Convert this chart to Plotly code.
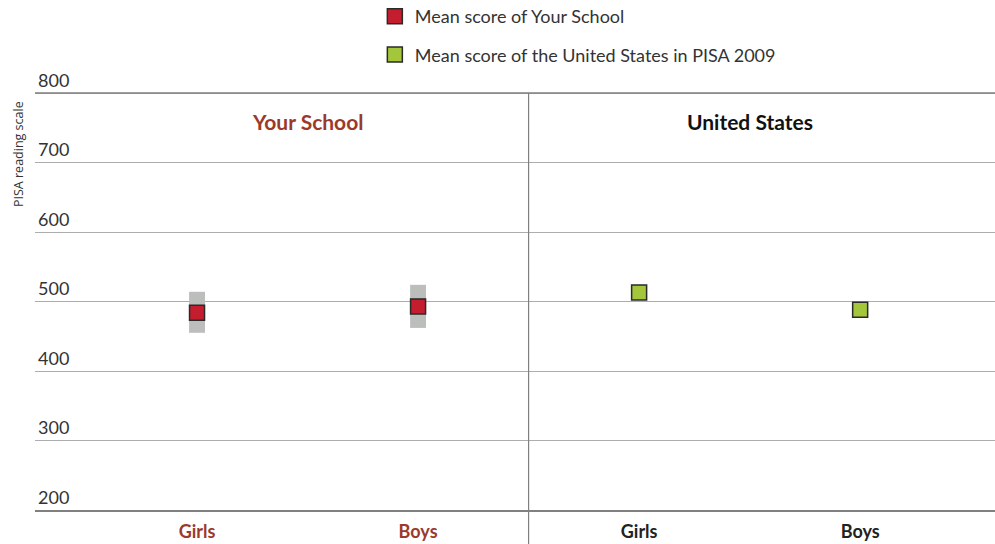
import plotly.graph_objects as go

categories = ["Girls", "Boys", "Girls", "Boys"]
school_mean = [484, 493]
school_low = [455, 462]
school_high = [514, 524]
us_mean = [513, 488]
panel_titles = ["Your School", "United States"]
y_ticks = [200, 300, 400, 500, 600, 700, 800]

RED_TXT = "#9B3A2C"
RED = "#C41E2E"
GREEN = "#A3C63A"
GRAY_BAND = "#BCBEBB"

Y_MIN, Y_MAX = 200, 850.4  # headroom above 800 so the top tick label shows
TOP_VAL = 800

fig = go.Figure()

fig.add_trace(go.Bar(
    x=[0, 1], base=school_low,
    y=[h - l for h, l in zip(school_high, school_low)],
    width=0.072, marker=dict(color=GRAY_BAND, line=dict(width=0)),
    showlegend=False, hoverinfo="skip"))

fig.add_trace(go.Scatter(
    x=[0, 1], y=school_mean, mode="markers",
    marker=dict(symbol="square", size=15, color=RED, line=dict(color="#2a2a2a", width=1.5)),
    name="Mean score of Your School", legendgroup="a"))

fig.add_trace(go.Scatter(
    x=[2, 3], y=us_mean, mode="markers",
    marker=dict(symbol="square", size=15, color=GREEN, line=dict(color="#2a2a2a", width=1.5)),
    name="Mean score of the United States in PISA 2009", legendgroup="b"))

ticktext = [f"<b><span style='color:{RED_TXT}'>{c}</span></b>" if i < 2 else f"<b>{c}</b>"
            for i, c in enumerate(categories)]

PLOT_H = 544 - 58 - 34

fig.update_layout(
    width=995, height=544,
    margin=dict(l=35, r=0, t=58, b=34, autoexpand=False),
    paper_bgcolor="white", plot_bgcolor="white",
    font=dict(family="Lato", color="#333333"),
    barmode="overlay",
    showlegend=True,
    legend=dict(x=0.354, y=1 + 60 / PLOT_H, xanchor="left", yanchor="top",
                font=dict(size=18, color="#333"), tracegroupgap=12,
                bgcolor="rgba(0,0,0,0)"),
    xaxis=dict(range=[-0.733, 3.61], tickvals=[0, 1, 2, 3], ticktext=ticktext,
               showgrid=False, zeroline=False, showline=True, mirror=False,
               linecolor="#808080", linewidth=1.5, ticks="", ticklabelstandoff=5,
               tickfont=dict(size=18, color="#222")),
    yaxis=dict(range=[Y_MIN, Y_MAX], tickvals=y_ticks, showgrid=True, gridcolor="#ADADAD",
               gridwidth=1, zeroline=False, showline=False, ticks="",
               ticklabelposition="inside top", tickfont=dict(size=18, color="#333")),
)

top_frac = (TOP_VAL - Y_MIN) / (Y_MAX - Y_MIN)
fig.add_shape(type="line", xref="paper", yref="y", x0=0, x1=1, y0=TOP_VAL, y1=TOP_VAL,
              line=dict(color="#808080", width=1.5), layer="above")
fig.add_shape(type="line", xref="x", yref="paper", x0=1.5, x1=1.5, y0=-0.09, y1=top_frac,
              line=dict(color="#808080", width=1.2), layer="above")

fig.add_annotation(x=0.5, y=TOP_VAL, xref="x", yref="y", yshift=-28, showarrow=False,
                   text=f"<b>{panel_titles[0]}</b>", font=dict(size=21, color=RED_TXT))
fig.add_annotation(x=2.5, y=TOP_VAL, xref="x", yref="y", yshift=-28, showarrow=False,
                   text=f"<b>{panel_titles[1]}</b>", font=dict(size=21, color="#111"))
fig.add_annotation(x=-0.0177, y=(510 - 154) / PLOT_H, xref="paper", yref="paper", textangle=-90,
                   xanchor="center", yanchor="middle",
                   showarrow=False, text="PISA reading scale",
                   font=dict(size=12.5, color="#333", family="Open Sans"))

fig.write_html("out.html", config={"displayModeBar": False},
               post_script="document.body.style.margin='0';document.body.style.overflow='hidden';")
